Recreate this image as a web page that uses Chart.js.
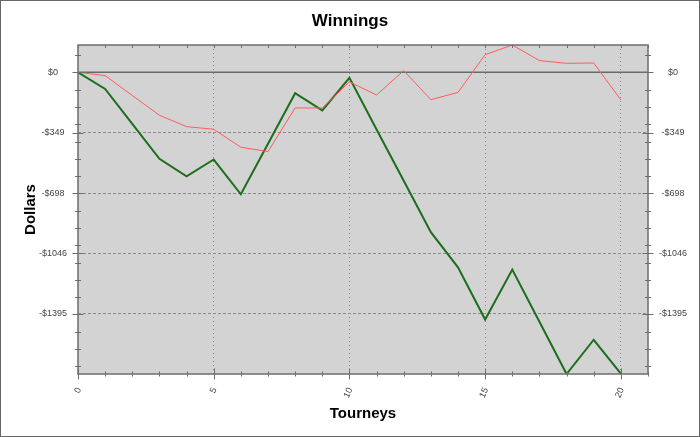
<!DOCTYPE html>
<html><head><meta charset="utf-8">
<script src="https://cdn.jsdelivr.net/npm/chart.js@4"></script>
<style>html,body{margin:0;padding:0;background:#fff}#wrap{width:700px;height:437px}</style>
</head><body><div id="wrap"><canvas id="c" width="700" height="437"></canvas></div>
<script>
// ---- data ----
const tourneys = [0,1,2,3,4,5,6,7,8,9,10,11,12,13,14,15,16,17,18,19,20];
const greenWinnings = [0,-96,-298,-500,-601,-504,-705,-413,-121,-220,-32,-330,-627,-924,-1127,-1429,-1140,-1442,-1744,-1546,-1742];
const redWinnings = [0,-19,-134,-248,-314,-329,-433,-458,-206,-206,-55,-131,10,-158,-116,102,158,68,52,54,-159];
const yMajorTicks = [0,-349,-698,-1046,-1395];
const xMajorTicks = [0,5,10,15,20];
const yMin = -1744, yMax = 158, xMin = 0, xMax = 21;

const AXIS = '#6e6e6e';
const LABEL_FONT = {family:'"Liberation Sans", Arial, sans-serif', size:9};
const TITLE_FONT = {family:'"Liberation Sans", Arial, sans-serif', size:15, weight:'bold'};

function yTicksBuild(scale){
  const vals = new Set(yMajorTicks);
  for (let v = Math.ceil(yMin/100)*100; v <= yMax; v += 100) vals.add(v);
  const arr = [...vals].sort((a,b)=>a-b).map(v=>({value:v, isMain: yMajorTicks.includes(v)}));
  scale.ticks = arr;
}
function xTicksBuild(scale){
  const arr = [];
  for (let v = xMin; v <= xMax; v++) arr.push({value:v, isMain: xMajorTicks.includes(v)});
  scale.ticks = arr;
}
function fmtDollar(v){ return v < 0 ? '-$' + Math.abs(v) : '$' + v; }

const decor = {
  id:'decor',
  beforeDraw(chart){
    const {ctx, chartArea:a} = chart;
    ctx.save();
    ctx.fillStyle = '#fff'; ctx.fillRect(0,0,chart.width,chart.height);
    ctx.fillStyle = '#d3d3d3'; ctx.fillRect(a.left,a.top,a.right-a.left,a.bottom-a.top);
    ctx.restore();
  },
  beforeDatasetsDraw(chart){
    const {ctx, chartArea:a, scales} = chart;
    const y0 = scales.y.getPixelForValue(0);
    ctx.save();
    ctx.strokeStyle = '#6a6a6a'; ctx.lineWidth = 1.5;
    ctx.beginPath(); ctx.moveTo(a.left,y0); ctx.lineTo(a.right,y0); ctx.stroke();
    ctx.restore();
  },
  afterDraw(chart){
    const {ctx, chartArea:a, scales} = chart;
    ctx.save();
    ctx.strokeStyle = AXIS; ctx.lineWidth = 1.5;
    ctx.strokeRect(a.left, a.top, a.right-a.left, a.bottom-a.top);
    ctx.lineWidth = 1;
    ctx.beginPath();
    scales.y.ticks.forEach(t=>{
      const p = Math.round(scales.y.getPixelForValue(t.value))+0.5;
      const h = t.isMain ? 5.5 : 3;
      ctx.moveTo(a.left-h,p); ctx.lineTo(a.left+h,p);
      ctx.moveTo(a.right-h,p); ctx.lineTo(a.right+h,p);
    });
    scales.x.ticks.forEach(t=>{
      const p = Math.round(scales.x.getPixelForValue(t.value))+0.5;
      const h = t.isMain ? 5.5 : 2.5;
      ctx.moveTo(p,a.bottom-h); ctx.lineTo(p,a.bottom+h);
      ctx.moveTo(p,a.top); ctx.lineTo(p,a.top+3);
    });
    ctx.stroke();
    ctx.strokeStyle = '#666'; ctx.lineWidth = 1;
    ctx.strokeRect(0.5,0.5,chart.width-1,chart.height-1);
    ctx.restore();
  }
};

new Chart(document.getElementById('c'), {
  type:'line',
  data:{
    datasets:[
      {data: tourneys.map((x,i)=>({x, y: redWinnings[i]})), borderColor:'#ff5c5c', borderWidth:1, pointRadius:0, tension:0, yAxisID:'y'},
      {data: tourneys.map((x,i)=>({x, y: greenWinnings[i]})), borderColor:'#1c6e1c', borderWidth:2, pointRadius:0, tension:0, yAxisID:'y'}
    ]
  },
  options:{
    responsive:false, animation:false, devicePixelRatio:1,
    layout:{padding:0},
    plugins:{
      legend:{display:false}, tooltip:{enabled:false},
      title:{display:true, text:'Winnings', color:'#000', font:{family:TITLE_FONT.family, size:17, weight:'bold'}, padding:{top:11, bottom:13.6}}
    },
    scales:{
      x:{
        type:'linear', min:xMin, max:xMax, position:'bottom',
        afterBuildTicks: xTicksBuild,
        afterFit(s){ s.height = 63; },
        ticks:{autoSkip:false, minRotation:65, maxRotation:65, padding:12, labelOffset:1, color:'#444', font:LABEL_FONT,
          callback:(v,i,t)=> t[i].isMain ? String(v) : ''},
        grid:{drawTicks:false, color:c=> (c.tick && c.tick.isMain && c.tick.value>xMin && c.tick.value<xMax) ? '#8a8a8a' : 'rgba(0,0,0,0)', lineWidth:1},
        border:{display:false, dash:[1,3]},
        title:{display:true, text:'Tourneys', color:'#000', font:TITLE_FONT, padding:{top:0,bottom:14}}
      },
      y:{
        type:'linear', min:yMin, max:yMax, position:'left',
        afterBuildTicks: yTicksBuild,
        afterFit(s){ s.width = 78; },
        ticks:{autoSkip:false, crossAlign:'center', padding:11, color:'#444', font:LABEL_FONT,
          callback:(v,i,t)=> t[i].isMain ? fmtDollar(v) : ''},
        grid:{drawTicks:false, color:c=> (c.tick && c.tick.isMain && c.tick.value !== 0) ? '#8a8a8a' : 'rgba(0,0,0,0)', lineWidth:1},
        border:{display:false, dash:[3,2]},
        title:{display:true, text:'Dollars', color:'#000', font:TITLE_FONT, padding:{top:22,bottom:0}}
      },
      y2:{
        type:'linear', min:yMin, max:yMax, position:'right',
        afterBuildTicks: yTicksBuild,
        afterFit(s){ s.width = 52; },
        ticks:{autoSkip:false, crossAlign:'center', padding:11, color:'#444', font:LABEL_FONT,
          callback:(v,i,t)=> t[i].isMain ? fmtDollar(v) : ''},
        grid:{drawTicks:false, drawOnChartArea:false},
        border:{display:false}
      }
    }
  },
  plugins:[decor]
});
</script></body></html>
